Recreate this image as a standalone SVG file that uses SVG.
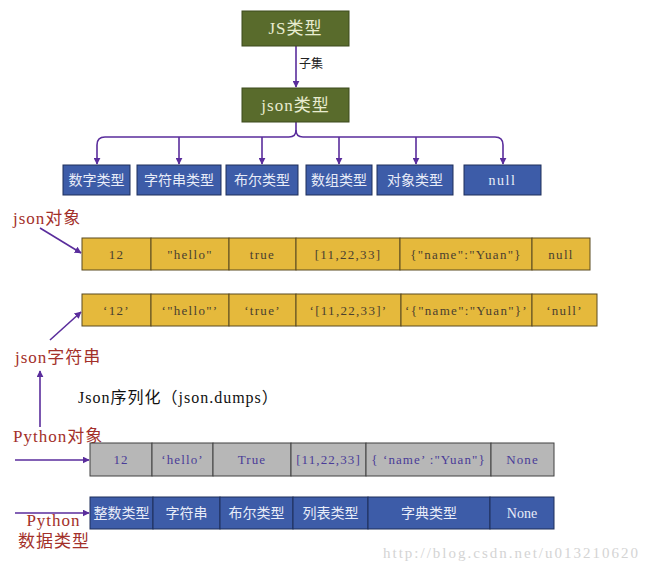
<svg xmlns="http://www.w3.org/2000/svg" width="650" height="571" viewBox="0 0 650 571">
<defs>
<marker id="ah" viewBox="0 0 10 10" refX="9" refY="5" markerWidth="7" markerHeight="7" orient="auto" markerUnits="userSpaceOnUse">
<path d="M0,0 L10,5 L0,10 z" fill="#5a2d9c"/>
</marker>
<style>
.g{fill:#596b2c;stroke:#3c4a1c;stroke-width:1}
.b{fill:#3d5ca8;stroke:#1e2e5a;stroke-width:1}
.y{fill:#e5b93c;stroke:#5a4a20;stroke-width:1}
.gr{fill:#b7b7b7;stroke:#404040;stroke-width:1}
.c{stroke:#5a2d9c;stroke-width:1.6;fill:none}
.t{font-family:"Liberation Serif","Noto Sans CJK SC",serif;text-anchor:middle;dominant-baseline:central}
.tg{fill:#e8ecd0;font-size:17px;letter-spacing:1px}
.tb{fill:#e8ecf8;font-size:14px}
.ty{fill:#4a4030;font-size:13px;letter-spacing:1.3px}
.tgr{fill:#4a3c98;font-size:13px;letter-spacing:1.1px}
.lab{font-family:"Liberation Serif","Noto Sans CJK SC",serif;fill:#a3302a;font-size:17px;letter-spacing:1px}
</style>
</defs>
<g id="connectors">
<line class="c" x1="296" y1="46" x2="296" y2="87" marker-end="url(#ah)"/>
<path class="c" d="M296,122 V130 Q296,137 289,137 H105 Q97,137 97,145 V164" marker-end="url(#ah)"/>
<path class="c" d="M296,130 Q296,137 303,137 H495 Q503,137 503,145 V164" marker-end="url(#ah)"/>
<line class="c" x1="179" y1="137" x2="179" y2="164" marker-end="url(#ah)"/>
<line class="c" x1="262" y1="137" x2="262" y2="164" marker-end="url(#ah)"/>
<line class="c" x1="339" y1="137" x2="339" y2="164" marker-end="url(#ah)"/>
<line class="c" x1="416" y1="137" x2="416" y2="164" marker-end="url(#ah)"/>
<line class="c" x1="40" y1="228" x2="81" y2="253" marker-end="url(#ah)"/>
<line class="c" x1="50" y1="340" x2="81" y2="312" marker-end="url(#ah)"/>
<line class="c" x1="40" y1="427" x2="40" y2="371" marker-end="url(#ah)"/>
<line class="c" x1="15" y1="460" x2="89" y2="460" marker-end="url(#ah)"/>
<line class="c" x1="15" y1="513" x2="89" y2="513" marker-end="url(#ah)"/>
</g>
<text x="299" y="68" font-family="Noto Sans CJK SC,sans-serif" font-size="12" fill="#222">子集</text>
<g id="js"><rect class="g" x="242" y="11" width="107" height="35"/><text class="t tg" x="295.5" y="28.5">JS类型</text></g>
<g id="json"><rect class="g" x="242" y="88" width="107" height="34"/><text class="t tg" x="295.5" y="105">json类型</text></g>
<g id="n1"><rect class="b" x="63" y="165" width="67" height="30"/><text class="t tb" x="96.5" y="180">数字类型</text></g>
<g id="n2"><rect class="b" x="137" y="165" width="84" height="30"/><text class="t tb" x="179" y="180">字符串类型</text></g>
<g id="n3"><rect class="b" x="226" y="165" width="72" height="30"/><text class="t tb" x="262" y="180">布尔类型</text></g>
<g id="n4"><rect class="b" x="306" y="165" width="66" height="30"/><text class="t tb" x="339" y="180">数组类型</text></g>
<g id="n5"><rect class="b" x="377" y="165" width="76" height="30"/><text class="t tb" x="415" y="180">对象类型</text></g>
<g id="n6"><rect class="b" x="464" y="165" width="77" height="30"/><text class="t tb" x="502.5" y="180" font-size="13" letter-spacing="1.5">null</text></g>
<text class="lab" x="13" y="224">json对象</text>
<g id="row1">
<rect class="y" x="82" y="238" width="69" height="32"/><text class="t ty" x="116.5" y="254">12</text>
<rect class="y" x="151" y="238" width="78" height="32"/><text class="t ty" x="190" y="254">"hello"</text>
<rect class="y" x="229" y="238" width="67" height="32"/><text class="t ty" x="262.5" y="254">true</text>
<rect class="y" x="296" y="238" width="104" height="32"/><text class="t ty" x="348" y="254">[11,22,33]</text>
<rect class="y" x="400" y="238" width="132" height="32"/><text class="t ty" x="466" y="254">{"name":"Yuan"}</text>
<rect class="y" x="532" y="238" width="58" height="32"/><text class="t ty" x="561" y="254">null</text>
</g>
<g id="row2">
<rect class="y" x="82" y="294" width="69" height="32"/><text class="t ty" x="116.5" y="310">‘12’</text>
<rect class="y" x="151" y="294" width="78" height="32"/><text class="t ty" x="190" y="310">‘"hello"’</text>
<rect class="y" x="229" y="294" width="67" height="32"/><text class="t ty" x="262.5" y="310">‘true’</text>
<rect class="y" x="296" y="294" width="105" height="32"/><text class="t ty" x="348.5" y="310">‘[11,22,33]’</text>
<rect class="y" x="401" y="294" width="131" height="32"/><text class="t ty" x="466.5" y="310">‘{"name":"Yuan"}’</text>
<rect class="y" x="532" y="294" width="65" height="32"/><text class="t ty" x="564.5" y="310">‘null’</text>
</g>
<text class="lab" x="15" y="363">json字符串</text>
<text x="78" y="403" font-family="Liberation Serif,Noto Sans CJK SC,serif" font-size="16" letter-spacing="1" fill="#111">Json序列化（json.dumps）</text>
<text class="lab" x="13" y="442">Python对象</text>
<g id="row3">
<rect class="gr" x="90" y="443" width="62" height="33"/><text class="t tgr" x="121" y="459.5">12</text>
<rect class="gr" x="152" y="443" width="61" height="33"/><text class="t tgr" x="182.5" y="459.5">‘hello’</text>
<rect class="gr" x="213" y="443" width="78" height="33"/><text class="t tgr" x="252" y="459.5">True</text>
<rect class="gr" x="291" y="443" width="75" height="33"/><text class="t tgr" x="328.5" y="459.5">[11,22,33]</text>
<rect class="gr" x="366" y="443" width="125" height="33"/><text class="t tgr" x="428.5" y="459.5">{ ‘name’ :"Yuan"}</text>
<rect class="gr" x="491" y="443" width="63" height="33"/><text class="t tgr" x="522.5" y="459.5">None</text>
</g>
<g id="row4">
<rect class="b" x="90" y="497" width="63" height="32"/><text class="t tb" x="121.5" y="513">整数类型</text>
<rect class="b" x="153" y="497" width="67" height="32"/><text class="t tb" x="186.5" y="513">字符串</text>
<rect class="b" x="220" y="497" width="73" height="32"/><text class="t tb" x="256.5" y="513">布尔类型</text>
<rect class="b" x="293" y="497" width="75" height="32"/><text class="t tb" x="330.5" y="513">列表类型</text>
<rect class="b" x="368" y="497" width="122" height="32"/><text class="t tb" x="429" y="513">字典类型</text>
<rect class="b" x="490" y="497" width="64" height="32"/><text class="t tb" x="522" y="513">None</text>
</g>
<text class="lab" x="53.5" y="526" text-anchor="middle" font-size="16" letter-spacing="1.5">Python</text>
<text class="lab" x="54" y="547" text-anchor="middle" font-size="17">数据类型</text>
<text x="383" y="558" font-family="Liberation Serif,serif" font-size="15" letter-spacing="2" fill="#d4d4d4">http://blog.csdn.net/u013210620</text>
</svg>
